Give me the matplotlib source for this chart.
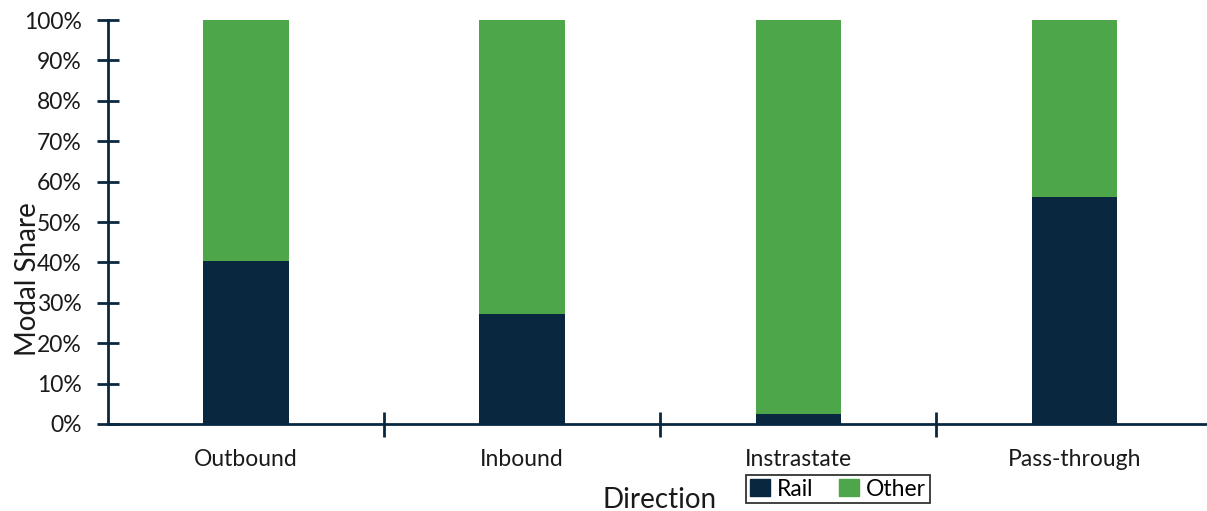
import matplotlib
matplotlib.use("Agg")
import matplotlib.pyplot as plt
from matplotlib.ticker import FixedLocator, PercentFormatter
from matplotlib.patches import Patch

categories = ["Outbound", "Inbound", "Instrastate", "Pass-through"]
rail = [40.3, 27.2, 2.5, 56.1]
other = [100 - r for r in rail]

NAVY = "#0A2740"
GREEN = "#4EA64A"
TEXT = "#1a1a1a"

plt.rcParams["font.family"] = ["Lato", "DejaVu Sans"]

fig = plt.figure(figsize=(12.07, 5.11), dpi=100)
ax = fig.add_axes([108 / 1207, 1 - 424 / 511, 1 - 108 / 1207, 404 / 511])

x = list(range(len(categories)))
width = 0.31
ax.bar(x, rail, width=width, color=NAVY, label="Rail", zorder=2)
ax.bar(x, other, width=width, bottom=rail, color=GREEN, label="Other", zorder=2)

ax.set_xlim(-0.5, 3.48)
ax.set_ylim(0, 100)

for side in ("top", "right"):
    ax.spines[side].set_visible(False)
for side in ("left", "bottom"):
    ax.spines[side].set_color(NAVY)
    ax.spines[side].set_linewidth(2)

ax.yaxis.set_major_locator(FixedLocator(range(0, 101, 10)))
ax.yaxis.set_major_formatter(PercentFormatter(decimals=0))
ax.tick_params(axis="y", direction="inout", length=16, width=2, color=NAVY,
               labelsize=16.5, labelcolor=TEXT, pad=11)

ax.set_xticks(x)
ax.set_xticklabels(categories)
ax.tick_params(axis="x", which="major", length=0, labelsize=16.5,
               labelcolor=TEXT, pad=18)
ax.xaxis.set_minor_locator(FixedLocator([0.5, 1.5, 2.5]))
ax.tick_params(axis="x", which="minor", direction="inout", length=18,
               width=2, color=NAVY)

ax.set_ylabel("Modal Share", fontsize=20, color=TEXT)
ax.yaxis.set_label_coords(-0.061, 0.359)
ax.set_xlabel("Direction", fontsize=20, color=TEXT)
ax.xaxis.set_label_coords((660 - 108) / 1099, -0.155)

handles = [Patch(color=NAVY, label="Rail"), Patch(color=GREEN, label="Other")]
leg = fig.legend(handles=handles, loc="center", ncol=2,
                 bbox_to_anchor=(838 / 1207, 1 - 489 / 511),
                 fontsize=16.5, frameon=True, fancybox=False,
                 edgecolor="black", handlelength=0.9, handleheight=0.8,
                 handletextpad=0.3, columnspacing=1.1, borderpad=0.15,
                 borderaxespad=0)
leg.get_frame().set_linewidth(1.3)

fig.savefig("out.png", dpi=100, facecolor="white")
